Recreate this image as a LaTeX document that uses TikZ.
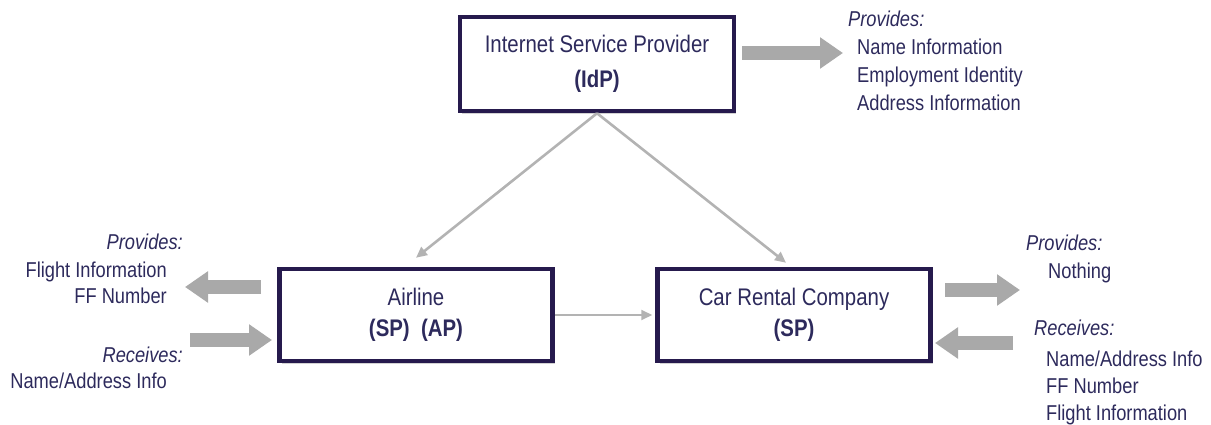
\documentclass[tikz,border=0pt]{standalone}
\usepackage{fontspec}
\setmainfont{Liberation Sans}[FakeStretch=0.85]
\usetikzlibrary{arrows.meta,shadows}
\definecolor{ink}{HTML}{2D2A5C}
\definecolor{frame}{HTML}{261A4D}
\definecolor{flow}{HTML}{A9A9A9}
\definecolor{link}{HTML}{B3B3B3}
\tikzset{
  party/.style={draw=frame, line width=4.5pt, fill=white, align=center,
    text=ink, font=\fontsize{24}{31}\selectfont, inner sep=0pt,
    drop shadow={shadow xshift=2pt, shadow yshift=-3pt, opacity=0.35, fill=gray}},
  note/.style={text=ink, font=\fontsize{21.5}{27}\selectfont, inner sep=0pt},
  head/.style={note, font=\fontsize{21.5}{27}\selectfont\itshape},
  bigflow/.style={draw=flow, line width=14pt, -{Triangle[length=23pt,width=30pt]}},
  link/.style={draw=link, line width=2.6pt, -{Triangle[length=11pt,width=10pt]}}
}
\begin{document}
\begin{tikzpicture}[x=1pt,y=-1pt]
\useasboundingbox (0,0) rectangle (1211,425);

% parties
\node[party, minimum width=274pt, minimum height=94pt] (idp) at (597,64)
  {Internet Service Provider\\[4pt]\textbf{(IdP)}};
\node[party, minimum width=273pt, minimum height=92pt] (air) at (416,315)
  {Airline\\\textbf{(SP)\ \ (AP)}};
\node[party, minimum width=273pt, minimum height=92pt] (car) at (794,315)
  {Car Rental Company\\\textbf{(SP)}};

% trust links
\draw[link] (idp.south) -- ([yshift=9pt]air.north);
\draw[link] (idp.south) -- ([shift={(-8pt,4pt)}]car.north);
\draw[link, line width=2pt, shorten >=3pt] (air.east) -- (car.west);

% attribute flows
\coordinate (idpA) at (742,53);  \coordinate (idpB) at (843,53);
\coordinate (lpA)  at (261,287); \coordinate (lpB)  at (185,287);
\coordinate (lrA)  at (190,340); \coordinate (lrB)  at (272,340);
\coordinate (rpA)  at (945,290); \coordinate (rpB)  at (1020,290);
\coordinate (rrA)  at (1013,343);\coordinate (rrB)  at (935,343);
\draw[bigflow] (idpA) -- (idpB);
\draw[bigflow] (lpA) -- (lpB);
\draw[bigflow] (lrA) -- (lrB);
\draw[bigflow] (rpA) -- (rpB);
\draw[bigflow] (rrA) -- (rrB);

% identity provider attributes
\node[head, anchor=base west] (tp) at (848,27) {Provides:};
\node[note, anchor=base west] (tp1) at (857,55) {Name Information};
\node[note, anchor=base west] (tp2) at (857,83) {Employment Identity};
\node[note, anchor=base west] (tp3) at (857,111) {Address Information};

% airline attributes
\node[head, anchor=base east] (lp) at (183,249) {Provides:};
\node[note, anchor=base east] (lp1) at (167,277) {Flight Information};
\node[note, anchor=base east] (lp2) at (167,303) {FF Number};
\node[head, anchor=base east] (lr) at (183,362) {Receives:};
\node[note, anchor=base east] (lr1) at (167,388) {Name/Address Info};

% car rental attributes
\node[head, anchor=base west] (rp) at (1026,250) {Provides:};
\node[note, anchor=base west] (rp1) at (1048,278) {Nothing};
\node[head, anchor=base west] (rr) at (1034,335) {Receives:};
\node[note, anchor=base west] (rr1) at (1046,366) {Name/Address Info};
\node[note, anchor=base west] (rr2) at (1046,393) {FF Number};
\node[note, anchor=base west] (rr3) at (1046,420) {Flight Information};
\end{tikzpicture}
\end{document}
